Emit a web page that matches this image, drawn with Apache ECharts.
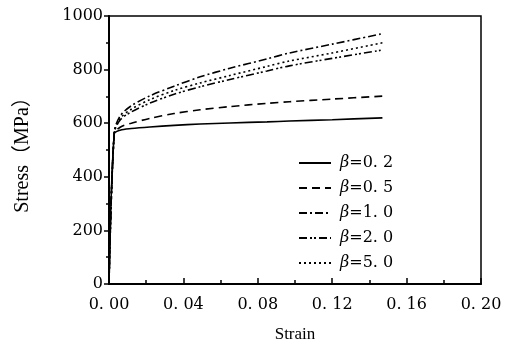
<!DOCTYPE html>
<html>
<head>
<meta charset="utf-8">
<script src="https://cdn.jsdelivr.net/npm/echarts@6/dist/echarts.min.js"></script>
<style>
  html, body { margin: 0; padding: 0; background: #fff; }
  #chart { width: 505px; height: 348px; }
</style>
</head>
<body>
<div id="chart"></div>
<script>
// strain points (x) shared by every curve
const strain = [0, 0.0028, 0.006, 0.012, 0.022, 0.035, 0.049, 0.065, 0.085, 0.097, 0.12, 0.147];

// stress (MPa) for each beta
const beta02 = [0, 560, 574, 580, 586, 592, 597, 601, 605, 608, 613, 620];
const beta05 = [0, 560, 585, 600, 618, 636, 650, 662, 674, 680, 690, 701];
const beta10 = [0, 565, 627, 665, 702, 738, 773, 805, 840, 862, 895, 934];
const beta20 = [0, 562, 612, 642, 675, 708, 736, 763, 795, 814, 842, 873];
const beta50 = [0, 563, 618, 652, 688, 722, 750, 778, 812, 832, 862, 900];

const names = ['β=0.2', 'β=0.5', 'β=1.0', 'β=2.0', 'β=5.0'];

const serif = '"DejaVu Serif", "Liberation Serif", serif';

const myChart = echarts.init(document.getElementById('chart'));

const pairs = (ys) => strain.map((x, i) => [x, ys[i]]);

const mkSeries = (name, ys, dash) => ({
  name: name,
  type: 'line',
  data: pairs(ys),
  symbol: 'none',
  smooth: 0.3,
  lineStyle: { color: '#000', width: 1.6, type: dash },
  itemStyle: { color: '#000' }
});

const option = {
  animation: false,
  backgroundColor: '#fff',
  grid: {
    left: 109,
    right: 24,
    top: 16,
    bottom: 58,
    show: true,
    borderColor: '#000',
    borderWidth: 1.5
  },
  legend: {
    left: 293,
    top: 150,
    orient: 'vertical',
    itemWidth: 32,
    itemHeight: 16,
    itemGap: 9,
    // hide the dot, keep the dashed line sample
    itemStyle: { opacity: 0 },
    formatter: (n) => '{b|β}' + n.slice(1).replace('.', '. '),
    textStyle: {
      fontFamily: serif,
      fontSize: 16,
      color: '#000',
      padding: [0, 0, 0, 4],
      rich: {
        b: { fontFamily: serif, fontStyle: 'italic', fontSize: 16, color: '#000' }
      }
    }
  },
  xAxis: {
    type: 'value',
    min: 0,
    max: 0.2,
    interval: 0.04,
    name: 'Strain',
    nameLocation: 'middle',
    nameGap: 42,
    nameTextStyle: { fontFamily: '"Liberation Serif", serif', fontSize: 17, color: '#000' },
    axisLine: { show: true, lineStyle: { color: '#000', width: 2 } },
    axisTick: { show: true, inside: true, length: 6, lineStyle: { color: '#000', width: 1.5 } },
    minorTick: { show: true, splitNumber: 2, length: 4, lineStyle: { color: '#000', width: 1.5 } },
    axisLabel: {
      margin: 13,
      fontFamily: serif,
      fontSize: 16,
      color: '#000',
      formatter: (v) => v.toFixed(2).replace('.', '. ')
    },
    splitLine: { show: false }
  },
  yAxis: {
    type: 'value',
    min: 0,
    max: 1000,
    interval: 200,
    name: 'Stress（MPa）',
    nameLocation: 'middle',
    nameGap: 76,
    nameTextStyle: { fontFamily: '"Liberation Serif", "Noto Sans CJK SC", serif', fontSize: 20, color: '#000' },
    axisLine: { show: true, lineStyle: { color: '#000', width: 2 } },
    axisTick: { show: true, inside: false, length: 5, lineStyle: { color: '#000', width: 1.5 } },
    minorTick: { show: true, splitNumber: 2, length: 3, lineStyle: { color: '#000', width: 1.5 } },
    axisLabel: {
      margin: 6,
      fontFamily: serif,
      fontSize: 16,
      color: '#000',
      formatter: (v) => String(v)
    },
    splitLine: { show: false }
  },
  series: [
    mkSeries(names[0], beta02, 'solid'),
    mkSeries(names[1], beta05, [8, 5]),
    mkSeries(names[2], beta10, [8, 3, 2, 3]),
    mkSeries(names[3], beta20, [8, 3, 2, 2, 2, 3]),
    mkSeries(names[4], beta50, [2, 3])
  ]
};

option && myChart.setOption(option);
</script>
</body>
</html>
